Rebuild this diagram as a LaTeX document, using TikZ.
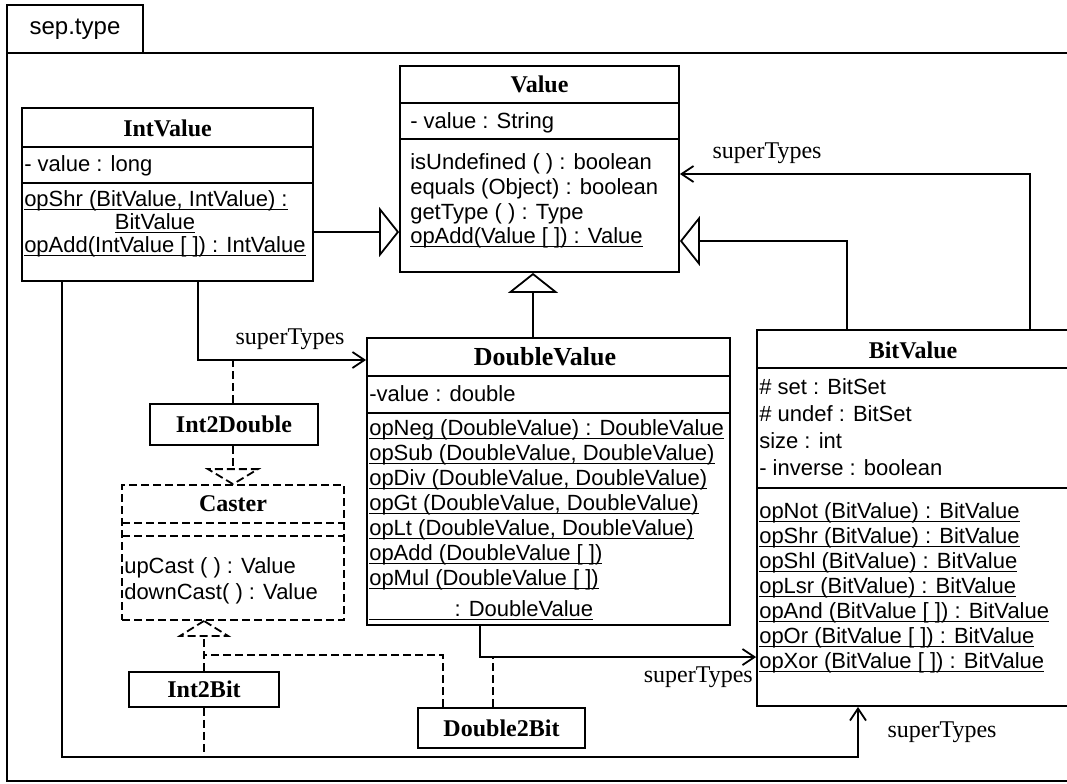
\documentclass[tikz,border=0pt]{standalone}
\usepackage{fontspec}
\setmainfont{Liberation Serif}
\setsansfont{Liberation Sans}
\usetikzlibrary{fit,arrows.meta,calc}

% underlined operation names: a thin rule just under the baseline
\newcommand\opline[1]{\setbox0\hbox{#1}\rlap{\rule[-2.8pt]{\wd0}{0.75pt}}\box0}

\tikzset{
  cls/.style={draw, line width=1.35pt, inner sep=0pt},
  castbox/.style={cls, dash pattern=on 6pt off 3pt},
  ttl/.style={font=\bfseries\fontsize{#1}{20}\selectfont, inner sep=0pt},
  ttl/.default=18,
  mem/.style={anchor=base west, font=\sffamily\fontsize{16.5}{18}\selectfont, inner sep=0pt},
  lbl/.style={font=\fontsize{18}{20}\selectfont, inner sep=0pt},
  cmpline/.style={line width=1.35pt},
  link/.style={line width=1.35pt},
  assoc/.style={link, -{Straight Barb[length=9pt,width=12pt]}},
  gen/.style={link, -{Triangle[open,length=15pt,width=37.5pt,fill=white]}},
  dep/.style={line width=1.35pt, dash pattern=on 6pt off 3pt},
}

\begin{document}
\begin{tikzpicture}[x=0.75pt,y=-0.75pt]
\clip (0,0) rectangle (1067,783);

% package frame with its tab
\coordinate (tab-a) at (7,5);   \coordinate (tab-b) at (143,53);
\node[cls, fit=(tab-a)(tab-b)] (tab) {};
\node[font=\sffamily\fontsize{18}{20}\selectfont, inner sep=0pt] (tab-t) at (tab.center) {sep.type};
\coordinate (frm-a) at (7,53);  \coordinate (frm-b) at (1085,781);
\node[cls, fit=(frm-a)(frm-b)] (frame) {};

% ---------- IntValue ----------
\coordinate (iv-a) at (22,108); \coordinate (iv-b) at (313,281);
\node[cls, fit=(iv-a)(iv-b)] (intvalue) {};
\node[ttl] (iv-t) at (167.5,128) {IntValue};
\draw[cmpline] (22,147) -- (313,147);
\node[mem] (iv-a1) at (24,171) {- value : long};
\draw[cmpline] (22,183) -- (313,183);
\node[mem] (iv-m1) at (24,206) {\opline{opShr (BitValue, IntValue) :}};
\node[mem, anchor=base] (iv-m2) at (155,229) {\opline{BitValue}};
\node[mem] (iv-m3) at (24,252) {\opline{opAdd(IntValue [ ]) : IntValue}};

% ---------- Value ----------
\coordinate (v-a) at (400,66); \coordinate (v-b) at (679,272);
\node[cls, fit=(v-a)(v-b)] (value) {};
\node[ttl] (v-t) at (539.5,84) {Value};
\draw[cmpline] (400,103) -- (679,103);
\node[mem] (v-a1) at (410,128) {- value : String};
\draw[cmpline] (400,139) -- (679,139);
\node[mem] (v-m1) at (410,169) {isUndefined ( ) : boolean};
\node[mem] (v-m2) at (410,194) {equals (Object) : boolean};
\node[mem] (v-m3) at (410,219) {getType ( ) : Type};
\node[mem] (v-m4) at (410,243) {\opline{opAdd(Value [ ]) : Value}};

% ---------- DoubleValue ----------
\coordinate (dv-a) at (367,338); \coordinate (dv-b) at (730,625);
\node[cls, fit=(dv-a)(dv-b)] (doublevalue) {};
\node[ttl=19.5] (dv-t) at (545,357) {DoubleValue};
\draw[cmpline] (367,376) -- (730,376);
\node[mem] (dv-a1) at (369,401) {-value : double};
\draw[cmpline] (367,413) -- (730,413);
\node[mem] (dv-m1) at (369,435) {\opline{opNeg (DoubleValue) : DoubleValue}};
\node[mem] (dv-m2) at (369,460) {\opline{opSub (DoubleValue, DoubleValue)}};
\node[mem] (dv-m3) at (369,485) {\opline{opDiv (DoubleValue, DoubleValue)}};
\node[mem] (dv-m4) at (369,510) {\opline{opGt (DoubleValue, DoubleValue)}};
\node[mem] (dv-m5) at (369,535) {\opline{opLt (DoubleValue, DoubleValue)}};
\node[mem] (dv-m6) at (369,560) {\opline{opAdd (DoubleValue [ ])}};
\node[mem] (dv-m7) at (369,585) {\opline{opMul (DoubleValue [ ])}};
\node[mem] (dv-m8) at (369,616) {\opline{\hspace*{64pt}: DoubleValue}};

% ---------- BitValue ----------
\coordinate (bv-a) at (757,330); \coordinate (bv-b) at (1070,706);
\node[cls, fit=(bv-a)(bv-b)] (bitvalue) {};
\node[ttl] (bv-t) at (913,350) {BitValue};
\draw[cmpline] (757,368) -- (1070,368);
\node[mem] (bv-a1) at (759,394) {\# set : BitSet};
\node[mem] (bv-a2) at (759,421) {\# undef : BitSet};
\node[mem] (bv-a3) at (759,448) {size : int};
\node[mem] (bv-a4) at (759,475) {- inverse : boolean};
\draw[cmpline] (757,488) -- (1070,488);
\node[mem] (bv-m1) at (759,518) {\opline{opNot (BitValue) : BitValue}};
\node[mem] (bv-m2) at (759,543) {\opline{opShr (BitValue) : BitValue}};
\node[mem] (bv-m3) at (759,568) {\opline{opShl (BitValue) : BitValue}};
\node[mem] (bv-m4) at (759,593) {\opline{opLsr (BitValue) : BitValue}};
\node[mem] (bv-m5) at (759,618) {\opline{opAnd (BitValue [ ]) : BitValue}};
\node[mem] (bv-m6) at (759,643) {\opline{opOr (BitValue [ ]) : BitValue}};
\node[mem] (bv-m7) at (759,668) {\opline{opXor (BitValue [ ]) : BitValue}};

% ---------- Caster and the casting classes ----------
\coordinate (c-a) at (122,485); \coordinate (c-b) at (344,620);
\node[castbox, fit=(c-a)(c-b)] (caster) {};
\node[ttl] (c-t) at (233,504) {Caster};
\draw[dep] (122,523) -- (344,523);
\draw[dep] (122,536) -- (344,536);
\node[mem] (c-m1) at (124,573) {upCast ( ) : Value};
\node[mem] (c-m2) at (124,599) {downCast( ) : Value};

\coordinate (i2d-a) at (150,404); \coordinate (i2d-b) at (318,445);
\node[cls, fit=(i2d-a)(i2d-b)] (int2double) {};
\node[ttl] (i2d-t) at (int2double.center) {Int2Double};

\coordinate (i2b-a) at (129,672); \coordinate (i2b-b) at (279,707);
\node[cls, fit=(i2b-a)(i2b-b)] (int2bit) {};
\node[ttl] (i2b-t) at (int2bit.center) {Int2Bit};

\coordinate (d2b-a) at (418,708); \coordinate (d2b-b) at (585,748);
\node[cls, fit=(d2b-a)(d2b-b)] (double2bit) {};
\node[ttl] (d2b-t) at (double2bit.center) {Double2Bit};

% ---------- generalisations ----------
\draw[gen] (intvalue.east |- 0,232) -- (value.west |- 0,232);
\draw[gen] (bitvalue.north -| 847,0) |- (value.east |- 0,241);
\draw[gen] (doublevalue.north -| 533,0) -- (value.south -| 533,0);

% ---------- superTypes associations ----------
\draw[assoc] (bitvalue.north -| 1030,0) |- (value.east |- 0,174);
\node[lbl] (st1) at (767,153) {superTypes};

\coordinate (i2d-hook) at (233,360);
\draw[assoc] (intvalue.south -| 198,0) |- (doublevalue.west |- i2d-hook);
\node[lbl] (st2) at (290,339) {superTypes};

\coordinate (loop) at (62,757);
\draw[assoc] (intvalue.south -| loop) -- (loop) -| (bitvalue.south -| 858,0);
\node[lbl] (st3) at (942,732) {superTypes};

\draw[assoc] (doublevalue.south -| 480,0) |- (bitvalue.west |- 0,657);
\node[lbl, anchor=east] (st4) at (753,677) {superTypes};

% ---------- realisations of Caster ----------
\draw[dep] (int2double.north -| i2d-hook) -- (i2d-hook);
\draw[dep] (caster.north) -- ++(-25,-15) -- ++(50,0) -- cycle;
\draw[dep] (int2double.south -| caster.north) -- ($(caster.north)+(0,-15)$);

\draw[dep] (caster.south -| int2bit.north) -- ++(-24,15) -- ++(48,0) -- cycle;
\draw[dep] (int2bit.north) -- ($(caster.south -| int2bit.north)+(0,15)$);
\draw[dep] (int2bit.south) -- (int2bit.south |- loop);

\coordinate (d2b-hook) at (493,657);
\draw[dep] (double2bit.north -| 443,0) |- (int2bit.north |- 0,655);
\draw[dep] (double2bit.north -| d2b-hook) -- (d2b-hook);
\end{tikzpicture}
\end{document}
